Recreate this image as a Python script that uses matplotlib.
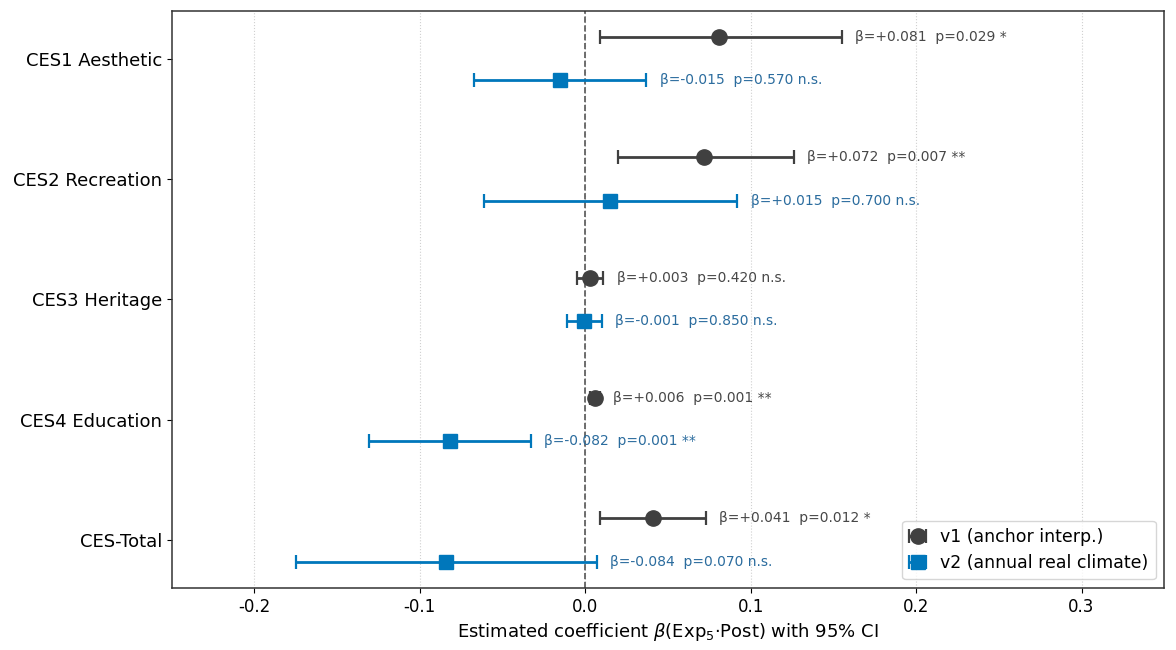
import matplotlib
matplotlib.use("Agg")
import matplotlib.pyplot as plt
import numpy as np

categories = ["CES1 Aesthetic", "CES2 Recreation", "CES3 Heritage", "CES4 Education", "CES-Total"]

v1_beta = [0.081, 0.072, 0.003, 0.006, 0.041]
v1_lo = [0.009, 0.020, -0.005, 0.003, 0.009]
v1_hi = [0.155, 0.126, 0.011, 0.009, 0.073]
v1_p = [0.029, 0.007, 0.420, 0.001, 0.012]
v1_sig = ["*", "**", "n.s.", "**", "*"]

v2_beta = [-0.015, 0.015, -0.001, -0.082, -0.084]
v2_lo = [-0.067, -0.061, -0.011, -0.131, -0.175]
v2_hi = [0.037, 0.092, 0.010, -0.033, 0.007]
v2_p = [0.570, 0.700, 0.850, 0.001, 0.070]
v2_sig = ["n.s.", "n.s.", "n.s.", "**", "n.s."]

series = [
    ("v1 (anchor interp.)", v1_beta, v1_lo, v1_hi, v1_p, v1_sig, "#404040", "#474747", "o", -0.18, 11),
    ("v2 (annual real climate)", v2_beta, v2_lo, v2_hi, v2_p, v2_sig, "#0077BB", "#2b6c9e", "s", 0.18, 10.5),
]

fig = plt.figure(figsize=(11.76, 6.5), dpi=100)
ax = fig.add_axes([0.146, 0.0954, 0.844, 0.888])

y = np.arange(len(categories))
for label, b, lo, hi, p, sig, col, tcol, mk, off, ms in series:
    b = np.array(b); lo = np.array(lo); hi = np.array(hi)
    yy = y + off
    ax.errorbar(b, yy, xerr=[b - lo, hi - b], fmt=mk, color=col, ecolor=col,
                markersize=ms, elinewidth=2, capsize=5, capthick=1.6, label=label, zorder=3)
    for i in range(len(b)):
        ax.text(hi[i] + 0.008, yy[i], f"β={b[i]:+.3f}  p={p[i]:.3f} {sig[i]}",
                va="center", ha="left", fontsize=10, color=tcol)

ax.axvline(0, color="#555555", linestyle="--", linewidth=1.2, zorder=1)
ax.set_yticks(y)
ax.set_yticklabels(categories, fontsize=13)
ax.invert_yaxis()
ax.set_xlim(-0.25, 0.35)
ax.set_xticks([-0.2, -0.1, 0.0, 0.1, 0.2, 0.3])
ax.set_xticklabels(["-0.2", "-0.1", "0.0", "0.1", "0.2", "0.3"], fontsize=12)
ax.grid(axis="x", linestyle=":", color="#d0d0d0", linewidth=0.8)
ax.set_axisbelow(True)
for s in ax.spines.values():
    s.set_color("#333333")
    s.set_linewidth(1.1)
ax.set_xlabel(r"Estimated coefficient $\beta$(Exp$_5$·Post) with 95% CI", fontsize=13)
ax.legend(loc="lower right", fontsize=12.5, handlelength=1.0)

fig.savefig("out.png", dpi=100)
